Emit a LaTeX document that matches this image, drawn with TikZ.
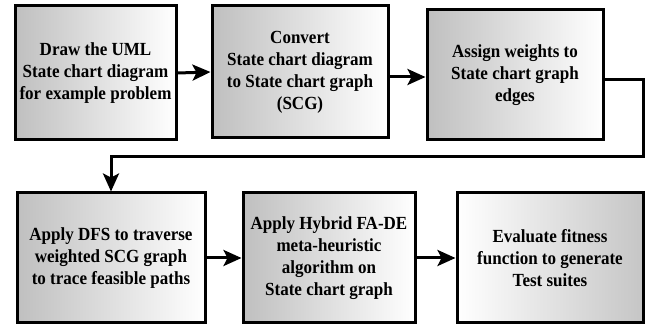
\documentclass[tikz,border=0pt]{standalone}
\usepackage{fontspec}
\setmainfont{Liberation Serif}[FakeStretch=0.92]
\usetikzlibrary{arrows.meta}
\begin{document}
\begin{tikzpicture}[x=1pt,y=-1pt,
  stepbox/.style={draw=black,line width=3pt,left color=gray!50,right color=white,
    align=center,inner sep=0pt,font=\fontsize{18.5}{22}\selectfont\bfseries},
  flow/.style={line width=3pt,-{Stealth[length=18pt,width=16pt,inset=4pt]}}]
\useasboundingbox (0,0) rectangle (649,326);
% upper row
\node[stepbox,minimum width=161pt,minimum height=134pt] (draw) at (95.5,73) {Draw the UML\\State chart diagram\\for example problem};
\node[stepbox,minimum width=176pt,minimum height=132pt] (convert) at (300,72) {Convert\\State chart diagram\\to State chart graph\\(SCG)};
\node[stepbox,minimum width=176pt,minimum height=130pt] (assign) at (515,75) {Assign weights to\\State chart graph\\edges};
% lower row
\node[stepbox,minimum width=188pt,minimum height=130pt] (dfs) at (111,258) {Apply DFS to traverse\\weighted SCG graph\\to trace feasible paths};
\node[stepbox,minimum width=172pt,minimum height=130pt] (hybrid) at (329,258) {Apply Hybrid FA-DE\\meta-heuristic\\algorithm on\\State chart graph};
\node[stepbox,minimum width=186pt,minimum height=130pt,left color=white,right color=gray!45] (fitness) at (550,258) {Evaluate fitness\\function to generate\\Test suites};
\coordinate (turn) at (643,157);
\draw[flow] (draw.east) -- (convert.west);
\draw[flow] (convert.east |- 0,77) -- (assign.west |- 0,77);
\draw[flow] (assign.east |- 0,80) -| (turn) -| (dfs.north);
\draw[flow] (dfs.east) -- (hybrid.west);
\draw[flow] (hybrid.east) -- (fitness.west);
\end{tikzpicture}
\end{document}
